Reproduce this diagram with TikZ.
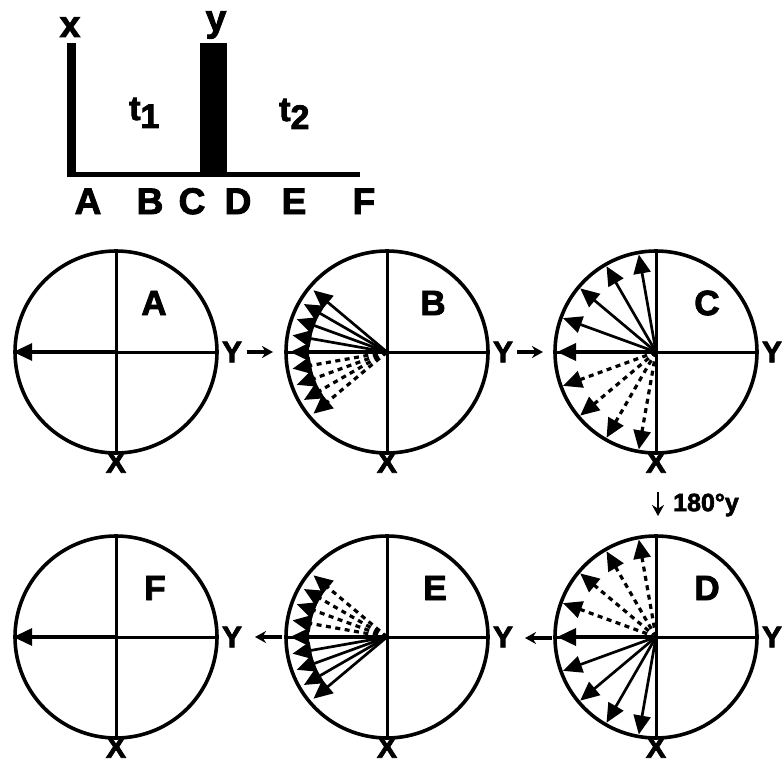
\documentclass[tikz,border=0pt]{standalone}
\usepackage{fontspec}
\setmainfont{Liberation Sans}[BoldFeatures={FakeBold=2.5}]
\usetikzlibrary{arrows.meta}
\begin{document}
\begin{tikzpicture}[x=1pt,y=-1pt,
  every node/.style={inner sep=0pt},
  axlbl/.style={font=\bfseries\fontsize{30}{30}\selectfont},
  inlbl/.style={font=\bfseries\fontsize{35}{35}\selectfont},
  toplbl/.style={font=\bfseries\fontsize{37}{37}\selectfont},
  ring/.style={circle, draw, line width=3.6pt, minimum size=202pt},
  axisline/.style={line width=3pt},
  vec/.style={line width=2.7pt, -{Triangle[length=19pt,width=17pt]}},
  mainvec/.style={vec, line width=3.6pt},
  dvec/.style={vec, line width=3.2pt, dash pattern=on 5pt off 4.5pt},
  flow/.style={line width=3.2pt, -{Stealth[length=11pt,width=12pt]}},
]
\useasboundingbox (0,0) rectangle (782,765);

% ---------- pulse sequence ----------
\fill (67,43) rectangle (76,177);
\fill (200,43) rectangle (227,177);
\fill (76,172.5) rectangle (360,177);
\node[toplbl, anchor=base] (px) at (70,37) {x};
\node[toplbl, anchor=base] (py) at (216,31) {y};
\node[font=\bfseries\fontsize{34}{34}\selectfont, anchor=base west] (t1) at (129,120) {t\raisebox{-8pt}{1}};
\node[font=\bfseries\fontsize{34}{34}\selectfont, anchor=base west] (t2) at (279,121) {t\raisebox{-8pt}{2}};
\foreach \l/\xx in {A/88,B/150,C/192,D/238,E/294,F/364}
  \node[toplbl, anchor=base] (tl\l) at (\xx,214) {\l};

% ---------- circles ----------
\foreach \n/\cx/\cy/\dx in {A/116/352/38, B/387/352/46, C/656/352/51, F/116/637/39, E/387/637/48, D/656/637/51}{
  \node[ring] (c\n) at (\cx,\cy) {};
  \draw[axisline] (c\n.north) -- (c\n.south);
  \draw[axisline] (c\n.west) -- (c\n.east);
  \node[inlbl] (l\n) at ([shift={(\dx,-49)}]c\n.center) {\n};
  \node[axlbl, anchor=west] (y\n) at ([xshift=3pt]c\n.east) {Y};
  \node[axlbl, anchor=north] (x\n) at ([yshift=3pt]c\n.south) {X};
}

% A and F: single vector
\draw[mainvec] (cA.center) -- (cA.west);
\draw[mainvec] (cF.center) -- (cF.west);

% B
\draw[mainvec] (cB.center) -- ++(180:97);
\foreach \a in {190,200,210,220} \draw[vec] (cB.center) -- ++(\a:96);
\foreach \a in {170,160,150,140} \draw[dvec] (cB.center) -- ++(\a:96);

% C
\draw[mainvec] (cC.center) -- ++(180:99);
\foreach \a in {200,220,240,260} \draw[vec] (cC.center) -- ++(\a:99);
\foreach \a in {160,140,120,100} \draw[dvec] (cC.center) -- ++(\a:99);

% D
\draw[mainvec] (cD.center) -- ++(180:99);
\foreach \a in {160,140,120,100} \draw[vec] (cD.center) -- ++(\a:99);
\foreach \a in {200,220,240,260} \draw[dvec] (cD.center) -- ++(\a:99);

% E
\draw[mainvec] (cE.center) -- ++(180:97);
\foreach \a in {170,160,150,140} \draw[vec] (cE.center) -- ++(\a:96);
\foreach \a in {190,200,210,220} \draw[dvec] (cE.center) -- ++(\a:96);

% ---------- flow arrows ----------
\coordinate (ab1) at (247,352); \coordinate (ab2) at (273,352);
\coordinate (bc1) at (517,352); \coordinate (bc2) at (543,352);
\coordinate (cd1) at (658,492); \coordinate (cd2) at (658,516);
\coordinate (de1) at (552,638); \coordinate (de2) at (525,638);
\coordinate (ef1) at (282,637); \coordinate (ef2) at (255,637);
\draw[flow] (ab1) -- (ab2);
\draw[flow] (bc1) -- (bc2);
\draw[flow, line width=2.5pt] (cd1) -- (cd2);
\draw[flow] (de1) -- (de2);
\draw[flow] (ef1) -- (ef2);
\node[font=\bfseries\fontsize{25}{25}\selectfont, anchor=west] (rot) at (673,505) {180°y};
\end{tikzpicture}
\end{document}
